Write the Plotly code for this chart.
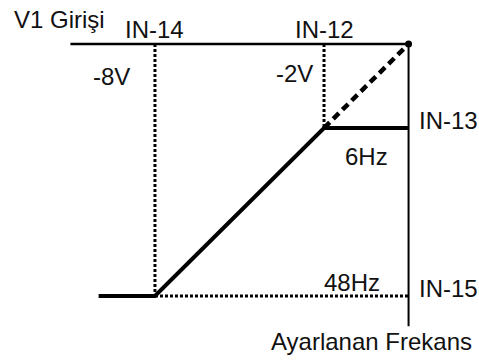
import plotly.graph_objects as go

# V1 girişi (volt) ve ayarlanan frekans seviyeleri (şematik)
volt_min = -10
volt_points = [-8, -2]          # IN-14, IN-12
volt_labels = ["-8V", "-2V"]
volt_params = ["IN-14", "IN-12"]
volt_end = 1

freq_levels = [1, 3]            # IN-13, IN-15 (şematik konum)
freq_labels = ["6Hz", "48Hz"]
freq_params = ["IN-13", "IN-15"]
freq_axis_end = 3.36

FONT = "Liberation Sans, Arial, sans-serif"

fig = go.Figure()


def line(xs, ys, width, dash="solid"):
    fig.add_trace(go.Scatter(x=xs, y=ys, mode="lines",
                             line=dict(color="black", width=width, dash=dash),
                             hoverinfo="skip", showlegend=False))


# eksenler
line([volt_min - 1, volt_end], [0, 0], 2.5)
line([volt_end, volt_end], [0, freq_axis_end], 2)

# kılavuz noktalı çizgiler
line([volt_points[0], volt_points[0]], [0, freq_levels[1]], 3, "3px,2px")
line([volt_points[1], volt_points[1]], [0, freq_levels[0]], 3, "3px,2px")
line([volt_points[0], volt_end], [freq_levels[1], freq_levels[1]], 3, "3px,2px")

# karakteristik
line([volt_min, volt_points[0], volt_points[1], volt_end],
     [freq_levels[1], freq_levels[1], freq_levels[0], freq_levels[0]], 4)
line([volt_points[1], volt_end], [freq_levels[0], 0], 4.5, "8px,5px")
fig.add_trace(go.Scatter(x=[volt_end], y=[0], mode="markers",
                         marker=dict(color="black", size=7),
                         hoverinfo="skip", showlegend=False))


def label(x, y, s, xa="center", ya="middle", size=24):
    fig.add_annotation(x=x, y=y, text=s, showarrow=False, xanchor=xa, yanchor=ya,
                       font=dict(family=FONT, size=size, color="#111"))


label(-13.08, -0.29, "V1 Girişi", xa="left")
for v, p in zip(volt_points, volt_params):
    label(v, -0.17, p)
label(-9.56, 0.39, volt_labels[0])
label(-3.06, 0.35, volt_labels[1])
label(1.30, 0.905, freq_params[0], xa="left")
label(1.30, 2.91, freq_params[1], xa="left")
label(-0.51, 1.34, freq_labels[0])
label(-1.02, 2.845, freq_labels[1])
label(-0.31, 3.54, "Ayarlanan Frekans")

fig.update_layout(
    width=479, height=360,
    margin=dict(l=0, r=0, t=0, b=0),
    plot_bgcolor="white", paper_bgcolor="white",
    xaxis=dict(range=[-13.5, 3.5], visible=False),
    yaxis=dict(range=[3.762, -0.524], visible=False),
)

# sayfa gövdesinin varsayılan 8px kenar boşluğunu kaldır
fig.write_html("out.html", config={"displayModeBar": False},
               post_script="document.body.style.margin='0';document.body.style.overflow='hidden';")
